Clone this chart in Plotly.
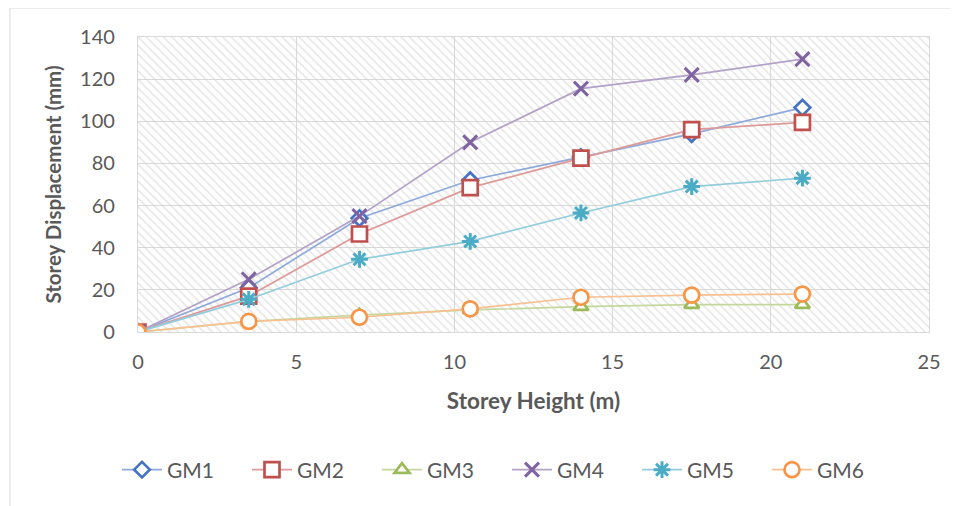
import plotly.graph_objects as go

# ---- data ----
heights = [0, 3.5, 7, 10.5, 14, 17.5, 21]
series_names = ["GM1", "GM2", "GM3", "GM4", "GM5", "GM6"]
gm1 = [0, 21, 54, 72, 83, 94, 106.5]
gm2 = [0, 17, 46.5, 68.5, 82.5, 96, 99.5]
gm3 = [0, 5, 8, 10.5, 12, 13, 13]
gm4 = [0, 25, 55, 90, 115.5, 122, 129.5]
gm5 = [0, 15.5, 34.5, 43, 56.5, 69, 73]
gm6 = [0, 5, 7, 11, 16.5, 17.5, 18]
x_ticks = [0, 5, 10, 15, 20, 25]
y_ticks = [0, 20, 40, 60, 80, 100, 120, 140]

values = [gm1, gm2, gm3, gm4, gm5, gm6]
line_colors = ["#8eaadb", "#dd9a98", "#c4d79e", "#b3a2c7", "#93cddd", "#fac090"]
marker_colors = ["#4472C4", "#C0504D", "#9BBB59", "#8064A2", "#4BACC6", "#F79646"]
symbols = ["diamond", "square", "triangle-up", "x-thin", "asterisk", "circle"]
sizes = [12, 15, 13, 14, 14, 15]

OFF = 8  # page body margin
PAGE_W, PAGE_H = 958, 506
W, H = PAGE_W - OFF, PAGE_H - OFF
PL, PR, PT, PB = 138, 929, 37, 332  # plot area in page pixels
ML, MT = PL - OFF, PT - OFF
MR, MB = W - (PR - OFF), H - (PB - OFF)
PW, PH = PR - PL, PB - PT

def px2paper(px, py):
    return (px - PL) / PW, 1 - (py - PT) / PH

fig = go.Figure()

# hatched plot background
x0, x1 = x_ticks[0], x_ticks[-1]
y0, y1 = y_ticks[0], y_ticks[-1]
fig.add_trace(go.Scatter(
    x=[x0, x1, x1, x0, x0], y=[y0, y0, y1, y1, y0],
    mode="lines", line=dict(width=0), fill="toself",
    fillcolor="rgba(0,0,0,0)",
    fillpattern=dict(shape="\\", fgcolor="#d0d0d0", bgcolor="rgba(255,255,255,0)", size=6, solidity=0.28),
    showlegend=False, hoverinfo="skip"))

for name, vals, lc, mc, sym, sz in zip(series_names, values, line_colors, marker_colors, symbols, sizes):
    thin = sym in ("x-thin", "asterisk")
    fig.add_trace(go.Scatter(
        x=heights, y=vals, name=name, mode="lines+markers",
        line=dict(color=lc, width=1.7),
        marker=dict(symbol=sym, size=sz, color=mc if thin else "white",
                    line=dict(color=mc, width=3 if thin else 2.7)),
    ))

# outer chart border
bx0, by0 = px2paper(10, 8)
bx1, by1 = px2paper(PAGE_W + 20, PAGE_H + 20)
shapes = [dict(type="rect", xref="paper", yref="paper", x0=bx0, y0=by1, x1=bx1, y1=by0,
               line=dict(color="#d9d9d9", width=1), fillcolor="rgba(0,0,0,0)", layer="below")]

font_main = "Lato, 'Open Sans', sans-serif"
leg_cx = (507 - OFF) / W
leg_cy = 1 - (470 - OFF) / H
fig.update_layout(
    width=W, height=H,
    margin=dict(l=ML, r=MR, t=MT, b=MB, autoexpand=False),
    paper_bgcolor="white", plot_bgcolor="white",
    font=dict(family=font_main, size=20, color="#595959"),
    shapes=shapes,
    showlegend=True,
    legend=dict(orientation="h", xref="container", yref="container",
                x=leg_cx, y=leg_cy, xanchor="center", yanchor="middle",
                font=dict(size=21, color="#595959"), itemwidth=40,
                entrywidth=75, traceorder="normal"),
    xaxis=dict(range=[x0, x1], tickvals=x_ticks, showgrid=True, gridcolor="#d9d9d9", gridwidth=1.3,
               zeroline=False, showline=True, linecolor="#d9d9d9", linewidth=1.3, mirror=True,
               ticks="", ticklabelstandoff=12, tickfont=dict(size=20),
               title=dict(text="<b>Storey Height (m)</b>", font=dict(size=22.5), standoff=21)),
    yaxis=dict(range=[y0, y1], tickvals=y_ticks, showgrid=True, gridcolor="#d9d9d9", gridwidth=1.3,
               zeroline=False, showline=True, linecolor="#d9d9d9", linewidth=1.3, mirror=True,
               ticks="", ticklabelstandoff=18, tickfont=dict(size=20),
               title=dict(text="<b>Storey Displacement (mm)</b>", font=dict(size=20.5), standoff=12)),
)

fig.write_html("out.html")
